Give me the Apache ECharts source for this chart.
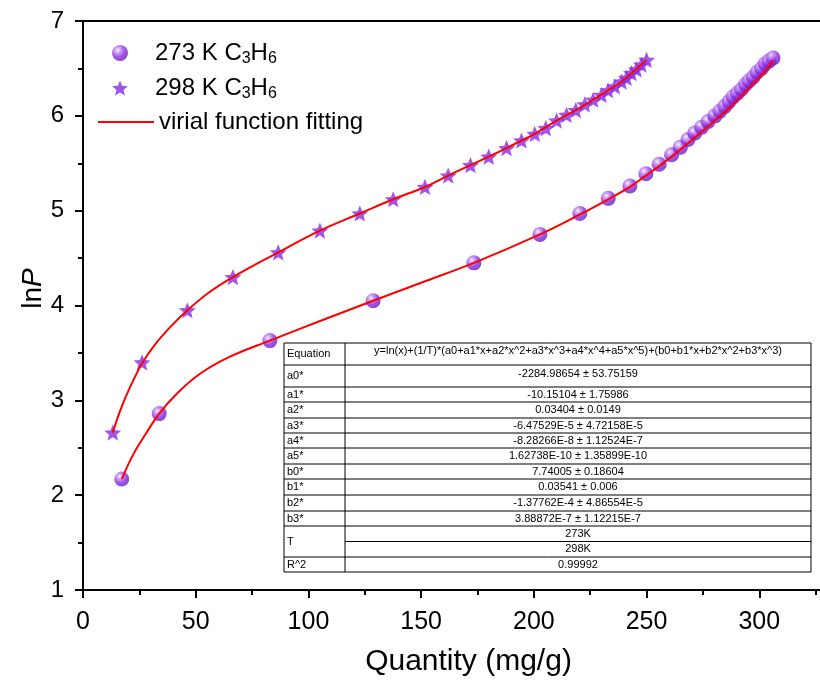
<!DOCTYPE html>
<html>
<head>
<meta charset="utf-8">
<script src="https://cdn.jsdelivr.net/npm/echarts@6/dist/echarts.min.js"></script>
<style>html,body{margin:0;padding:0;background:#fff}#c{width:820px;height:680px}</style>
</head>
<body>
<div id="c"></div>
<script>
// ---- data ----
const qty273 = [17.2, 33.8, 82.9, 128.7, 173.4, 202.7, 220.4, 233.0, 242.6, 249.7, 255.6, 261.1, 265.0, 268.4, 271.4, 274.4, 277.3, 280.3, 282.5, 284.7, 286.6, 288.4, 290.3, 292.1, 293.9, 295.5, 297.3, 299.0, 301.0, 302.7, 304.3, 306.1];
const lnP273 = [2.17, 2.86, 3.63, 4.05, 4.45, 4.75, 4.97, 5.13, 5.26, 5.39, 5.49, 5.59, 5.67, 5.75, 5.82, 5.88, 5.94, 6.00, 6.05, 6.10, 6.15, 6.20, 6.24, 6.28, 6.33, 6.37, 6.41, 6.46, 6.50, 6.55, 6.58, 6.61];

const qty298 = [13.2, 26.2, 46.3, 66.5, 86.6, 105.1, 122.8, 137.6, 151.7, 162.0, 171.9, 180.0, 187.9, 194.5, 200.4, 205.3, 210.1, 214.5, 218.6, 222.6, 226.3, 230.0, 232.9, 235.9, 238.9, 241.1, 243.3, 245.5, 247.7, 250.0];
const lnP298 = [2.66, 3.40, 3.95, 4.30, 4.56, 4.79, 4.97, 5.12, 5.25, 5.37, 5.48, 5.57, 5.66, 5.74, 5.81, 5.87, 5.95, 6.01, 6.06, 6.12, 6.17, 6.22, 6.27, 6.31, 6.36, 6.40, 6.45, 6.49, 6.54, 6.59];

// fitted curves
const fitQty273 = [17.2, 22.3, 28.2, 33.8, 41.6, 51.9, 65.2, 82.9, 106.6, 128.7, 150.0, 173.4, 202.7, 220.4, 233.0, 242.6, 249.7, 255.6, 261.1, 268.4, 274.4, 280.3, 286.6, 292.1, 297.3, 302.7, 306.1];
const fitLnP273 = [2.17, 2.43, 2.66, 2.86, 3.07, 3.28, 3.46, 3.63, 3.85, 4.05, 4.24, 4.45, 4.75, 4.96, 5.12, 5.25, 5.37, 5.47, 5.57, 5.71, 5.83, 5.95, 6.08, 6.21, 6.34, 6.47, 6.59];
const fitQty298 = [13.2, 16.0, 19.0, 22.3, 26.2, 32.0, 39.0, 46.3, 56.0, 66.5, 86.6, 105.1, 122.8, 137.6, 151.7, 162.0, 171.9, 180.0, 187.9, 194.5, 200.4, 210.1, 218.6, 226.3, 232.9, 238.9, 243.3, 247.7, 250.0];
const fitLnP298 = [2.66, 2.86, 3.04, 3.21, 3.39, 3.59, 3.78, 3.95, 4.14, 4.30, 4.56, 4.79, 4.97, 5.12, 5.25, 5.37, 5.48, 5.57, 5.66, 5.74, 5.81, 5.95, 6.06, 6.17, 6.27, 6.36, 6.45, 6.54, 6.59];

const xTicks = [0, 50, 100, 150, 200, 250, 300];
const yTicks = [1, 2, 3, 4, 5, 6, 7];

const seriesNames = ['273 K C3H6', '298 K C3H6', 'virial function fitting'];

const tableLabels = ['Equation', 'a0*', 'a1*', 'a2*', 'a3*', 'a4*', 'a5*', 'b0*', 'b1*', 'b2*', 'b3*', 'T', 'R^2'];
const tableValues = [
  ['y=ln(x)+(1/T)*(a0+a1*x+a2*x^2+a3*x^3+a4*x^4+a5*x^5)+(b0+b1*x+b2*x^2+b3*x^3)'],
  ['-2284.98654 \u00b1 53.75159'],
  ['-10.15104 \u00b1 1.75986'],
  ['0.03404 \u00b1 0.0149'],
  ['-6.47529E-5 \u00b1 4.72158E-5'],
  ['-8.28266E-8 \u00b1 1.12524E-7'],
  ['1.62738E-10 \u00b1 1.35899E-10'],
  ['7.74005 \u00b1 0.18604'],
  ['0.03541 \u00b1 0.006'],
  ['-1.37762E-4 \u00b1 4.86554E-5'],
  ['3.88872E-7 \u00b1 1.12215E-7'],
  ['273K', '298K'],
  ['0.99992']
];

// ---- build ----
const FONT = '"Liberation Sans", Arial, Helvetica, sans-serif';
const zip = (xs, ys) => xs.map((x, i) => [x, ys[i]]);

const purple = '#8a2be2';
const sphere = {
  type: 'radial', x: 0.36, y: 0.32, r: 0.72,
  colorStops: [
    { offset: 0, color: '#f6eeff' },
    { offset: 0.25, color: '#c08af5' },
    { offset: 0.6, color: '#8a2be2' },
    { offset: 1, color: '#6a1bbd' }
  ]
};
const starPath = 'path://M50,0 L62.93,32.2 L97.55,34.55 L70.92,56.8 L79.39,90.45 L50,72 L20.61,90.45 L29.08,56.8 L2.45,34.55 L37.07,32.2 Z';

function legendFmt(name) {
  const m = name.match(/^(\d+ K) C3H6$/);
  if (m) return '{g|}{m|' + m[1] + ' C}{s|3}{m|H}{s|6}';
  return '{m|' + name + '}';
}
const legendRich = {
  g: { width: 22, height: 10 },
  m: { fontSize: 24, fontFamily: FONT, color: '#000', lineHeight: 28, verticalAlign: 'middle' },
  s: { fontSize: 16, fontFamily: FONT, color: '#000', lineHeight: 14, verticalAlign: 'bottom' }
};

// table graphics
const tL = 284, tC = 345, tR = 811;
const rowEdges = [343, 365, 387, 402, 418, 433, 448, 464, 479, 495, 511, 526, 557, 572];
const tableEls = [];
tableEls.push({ type: 'rect', shape: { x: tL, y: rowEdges[0], width: tR - tL, height: rowEdges[rowEdges.length - 1] - rowEdges[0] }, style: { fill: '#fff', stroke: '#000', lineWidth: 1 } });
tableEls.push({ type: 'line', shape: { x1: tC, y1: rowEdges[0], x2: tC, y2: rowEdges[rowEdges.length - 1] }, style: { stroke: '#000', lineWidth: 1 } });
for (let i = 0; i < tableLabels.length; i++) {
  const y0 = rowEdges[i], y1 = rowEdges[i + 1];
  if (i > 0) tableEls.push({ type: 'line', shape: { x1: tL, y1: y0, x2: tR, y2: y0 }, style: { stroke: '#000', lineWidth: 1 } });
  tableEls.push({ type: 'text', x: tL + 3, y: (y0 + y1) / 2, style: { text: tableLabels[i], font: '11px ' + FONT, fill: '#000', textAlign: 'left', textVerticalAlign: 'middle' } });
  const vals = tableValues[i];
  const h = (y1 - y0) / vals.length;
  vals.forEach((v, k) => {
    const yy0 = y0 + k * h;
    if (k > 0) tableEls.push({ type: 'line', shape: { x1: tC, y1: yy0, x2: tR, y2: yy0 }, style: { stroke: '#000', lineWidth: 1 } });
    const cy = i === 0 ? yy0 + 8 : (i === 1 ? yy0 + 9 : yy0 + h / 2);
    tableEls.push({ type: 'text', x: (tC + tR) / 2, y: cy, style: { text: v, font: '11px ' + FONT, fill: '#000', textAlign: 'center', textVerticalAlign: 'middle' } });
  });
}

const chart = echarts.init(document.getElementById('c'), null, { renderer: 'canvas' });
chart.setOption({
  animation: false,
  backgroundColor: '#fff',
  grid: { left: 83, top: 21, height: 569, width: 789, containLabel: false, outerBoundsMode: 'none' },
  legend: [
    {
      data: [seriesNames[0], seriesNames[1]], orient: 'vertical', left: 107, top: 36,
      itemWidth: 16, itemHeight: 16, itemGap: 9, selectedMode: false,
      formatter: legendFmt, textStyle: { rich: legendRich, color: '#000' }
    },
    {
      data: [seriesNames[2]], orient: 'vertical', left: 92, top: 105,
      itemWidth: 56, itemHeight: 14, selectedMode: false,
      itemStyle: { opacity: 0 },
      lineStyle: { color: '#ff0000', width: 2 },
      formatter: legendFmt, textStyle: { rich: legendRich, color: '#000' }
    }
  ],
  xAxis: [
    {
      type: 'value', min: 0, max: 350, interval: 50, position: 'bottom',
      name: 'Quantity (mg/g)', nameLocation: 'middle', nameGap: 57,
      nameTextStyle: { fontSize: 30, fontFamily: FONT, color: '#000', padding: [0, 18, 0, 0] },
      axisLine: { show: true, onZero: false, lineStyle: { color: '#000', width: 2 } },
      axisTick: { show: true, length: 8, lineStyle: { color: '#000', width: 2 } },
      minorTick: { show: true, splitNumber: 2, length: 5, lineStyle: { color: '#000', width: 2 } },
      axisLabel: { fontSize: 25, fontFamily: FONT, color: '#000', margin: 20,
        formatter: v => (xTicks.indexOf(v) >= 0 ? String(v) : '') },
      splitLine: { show: false }
    },
    {
      type: 'value', min: 0, max: 350, position: 'top',
      axisLine: { show: true, onZero: false, lineStyle: { color: '#000', width: 2 } },
      axisTick: { show: false }, axisLabel: { show: false }, splitLine: { show: false }
    }
  ],
  yAxis: {
    type: 'value', min: 1, max: 7, interval: 1,
    name: '{n|ln}{p|P}', nameLocation: 'middle', nameGap: 36, nameMoveOverlap: false,
    nameTextStyle: {
      padding: [0, 0, 0, 34],
      rich: {
        n: { fontSize: 28, fontFamily: FONT, color: '#000' },
        p: { fontSize: 28, fontFamily: FONT, color: '#000', fontStyle: 'italic' }
      }
    },
    axisLine: { show: true, onZero: false, lineStyle: { color: '#000', width: 2 } },
    axisTick: { show: true, length: 8, lineStyle: { color: '#000', width: 2 } },
    minorTick: { show: true, splitNumber: 2, length: 5, lineStyle: { color: '#000', width: 2 } },
    axisLabel: { fontSize: 24, fontFamily: FONT, color: '#000', margin: 19,
      formatter: v => (yTicks.indexOf(v) >= 0 ? String(v) : '') },
    splitLine: { show: false }
  },
  series: [
    {
      name: seriesNames[0], type: 'scatter', data: zip(qty273, lnP273),
      symbol: 'circle', symbolSize: 15, itemStyle: { color: sphere }, z: 2
    },
    {
      name: seriesNames[1], type: 'scatter', data: zip(qty298, lnP298),
      symbol: starPath, symbolSize: 17, symbolKeepAspect: true, itemStyle: { color: purple }, z: 2
    },
    {
      name: seriesNames[2], type: 'line', data: zip(fitQty273, fitLnP273),
      smooth: 0.4, symbol: 'none', showSymbol: false, lineStyle: { color: '#ff0000', width: 2 }, itemStyle: { color: '#ff0000' }, z: 3
    },
    {
      name: seriesNames[2], type: 'line', data: zip(fitQty298, fitLnP298),
      smooth: 0.4, symbol: 'none', showSymbol: false, lineStyle: { color: '#ff0000', width: 2 }, itemStyle: { color: '#ff0000' }, z: 3
    }
  ],
  graphic: tableEls
});
</script>
</body>
</html>
